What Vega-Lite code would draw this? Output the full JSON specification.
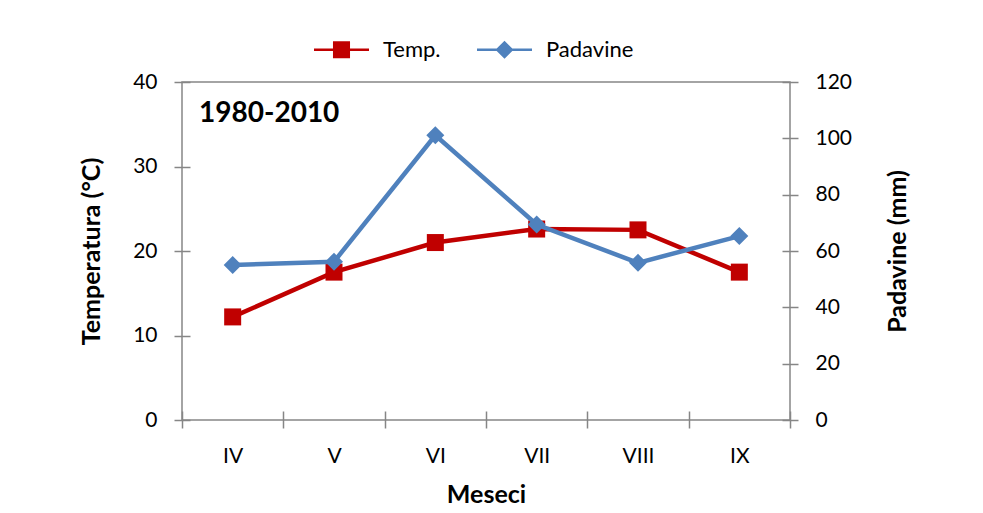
{
  "$schema": "https://vega.github.io/schema/vega-lite/v6.json",
  "width": 608,
  "height": 338,
  "autosize": {"type": "none"},
  "padding": {"left": 182, "top": 82, "right": 193, "bottom": 93},
  "background": "white",
  "config": {
    "font": "Lato",
    "view": {"stroke": "#868686", "strokeWidth": 1.5},
    "axis": {
      "domain": false,
      "grid": false,
      "tickColor": "#868686",
      "tickWidth": 1.5,
      "labelFont": "Lato",
      "labelFontSize": 21,
      "labelColor": "#000000",
      "titleFont": "Lato",
      "titleFontSize": 25,
      "titleFontWeight": "bold",
      "titleColor": "#000000"
    },
    "legend": {
      "labelFont": "Lato",
      "labelFontSize": 22,
      "labelColor": "#000000"
    }
  },
  "datasets": {
    "climate": [
      {"month": "IV", "temp": 12.2, "padavine": 55.0},
      {"month": "V", "temp": 17.5, "padavine": 56.2},
      {"month": "VI", "temp": 21.0, "padavine": 101.1},
      {"month": "VII", "temp": 22.6, "padavine": 69.4},
      {"month": "VIII", "temp": 22.5, "padavine": 55.8},
      {"month": "IX", "temp": 17.5, "padavine": 65.3}
    ],
    "series": [
      {"series": "Temp."},
      {"series": "Padavine"}
    ],
    "note": [
      {"label": "1980-2010"}
    ]
  },
  "layer": [
    {
      "data": {"name": "climate"},
      "encoding": {
        "x": {
          "field": "month",
          "type": "ordinal",
          "scale": {"domain": ["IV", "V", "VI", "VII", "VIII", "IX"], "paddingInner": 0, "paddingOuter": 0},
          "axis": {
            "title": "Meseci",
            "orient": "bottom",
            "labelAngle": 0,
            "offset": -9,
            "tickSize": 17,
            "tickBand": "extent",
            "labelPadding": 17,
            "titlePadding": 16
          }
        },
        "y": {
          "field": "temp",
          "type": "quantitative",
          "scale": {"domain": [0, 40], "nice": false, "zero": true},
          "axis": {
            "title": "Temperatura (°C)",
            "orient": "left",
            "values": [0, 10, 20, 30, 40],
            "offset": -8,
            "tickSize": 16,
            "labelPadding": 17,
            "titlePadding": 28
          }
        }
      },
      "layer": [
        {"mark": {"type": "line", "color": "#C00000", "strokeWidth": 4.5}},
        {"mark": {"type": "point", "shape": "square", "filled": true, "color": "#C00000", "size": 289, "opacity": 1}}
      ]
    },
    {
      "data": {"name": "climate"},
      "encoding": {
        "x": {"field": "month", "type": "ordinal"},
        "y": {
          "field": "padavine",
          "type": "quantitative",
          "scale": {"domain": [0, 120], "nice": false, "zero": true},
          "axis": {
            "title": "Padavine (mm)",
            "orient": "right",
            "values": [0, 20, 40, 60, 80, 100, 120],
            "offset": -8,
            "tickSize": 16,
            "labelPadding": 17,
            "titlePadding": 34,
            "titleAngle": -90,
            "titleBaseline": "top"
          }
        }
      },
      "layer": [
        {"mark": {"type": "line", "color": "#4F81BD", "strokeWidth": 4.5}},
        {"mark": {"type": "point", "shape": "diamond", "filled": true, "color": "#4F81BD", "size": 324, "opacity": 1}}
      ]
    },
    {
      "data": {"name": "note"},
      "mark": {"type": "text", "align": "left", "baseline": "middle", "fontSize": 28, "fontWeight": "bold", "color": "#000000", "font": "Lato"},
      "encoding": {
        "x": {"datum": "IV", "type": "ordinal"},
        "y": {"datum": 36.2, "type": "quantitative", "scale": {"domain": [0, 40], "nice": false}, "axis": null},
        "text": {"field": "label", "type": "nominal"},
        "xOffset": {"value": 17}
      }
    },
    {
      "data": {"name": "series"},
      "transform": [{"filter": "datum.series == 'none'"}],
      "mark": {"type": "point", "filled": true, "opacity": 1},
      "encoding": {
        "color": {
          "field": "series",
          "type": "nominal",
          "scale": {"domain": ["Temp.", "Padavine"], "range": ["#C00000", "#4F81BD"]},
          "legend": {
            "title": null,
            "orient": "none",
            "direction": "horizontal",
            "legendX": 132,
            "legendY": -60,
            "symbolSize": 3025,
            "symbolStrokeWidth": 0,
            "labelOffset": 14,
            "columnPadding": 36
          }
        },
        "shape": {
          "field": "series",
          "type": "nominal",
          "scale": {
            "domain": ["Temp.", "Padavine"],
            "range": [
              "M-1,-0.041H1V0.041H-1Z M-0.31,-0.31H0.31V0.31H-0.31Z",
              "M-1,-0.041H1V0.041H-1Z M0,-0.33L0.33,0L0,0.33L-0.33,0Z"
            ]
          },
          "legend": {
            "title": null,
            "orient": "none",
            "direction": "horizontal",
            "legendX": 132,
            "legendY": -60,
            "symbolSize": 3025,
            "symbolStrokeWidth": 0,
            "labelOffset": 14,
            "columnPadding": 36
          }
        }
      }
    }
  ],
  "resolve": {"scale": {"y": "independent"}}
}
